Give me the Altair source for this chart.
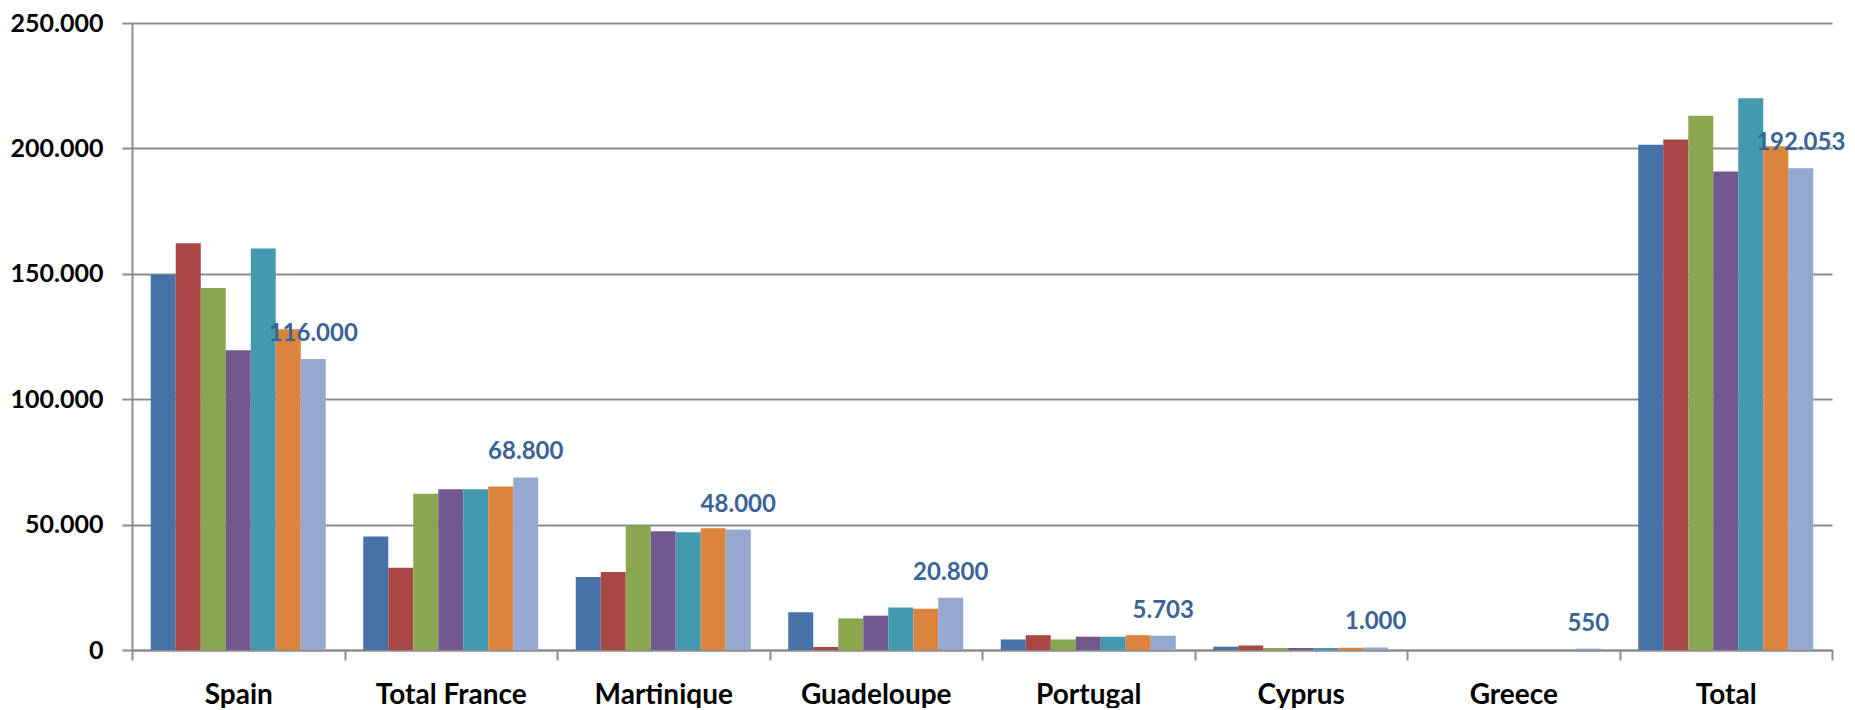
import altair as alt
import pandas as pd

categories = ["Spain", "Total France", "Martinique", "Guadeloupe", "Portugal", "Cyprus", "Greece", "Total"]
series = ["Series 1", "Series 2", "Series 3", "Series 4", "Series 5", "Series 6", "Series 7"]
colors = ["#4672A7", "#A94744", "#8AA64F", "#72588E", "#4399B0", "#DB843D", "#95A9D0"]

s1 = [149600, 45300, 29100, 15100, 4200, 1300, None, 201500]
s2 = [162200, 32800, 31100, 1200, 5900, 1800, None, 203500]
s3 = [144300, 62300, 49500, 12600, 4200, 800, None, 213000]
s4 = [119500, 64100, 47300, 13700, 5300, 800, None, 190800]
s5 = [160100, 64100, 46900, 16900, 5300, 800, None, 220000]
s6 = [127900, 65200, 48500, 16400, 5900, 900, None, 200900]
s7 = [116000, 68800, 48000, 20800, 5703, 1000, 550, 192053]

all_series = [s1, s2, s3, s4, s5, s6, s7]
rows = []
for name, vals in zip(series, all_series):
    for cat, v in zip(categories, vals):
        if v is not None:
            rows.append({"category": cat, "series": name, "value": v})
df = pd.DataFrame(rows)
lab_df = df[df["series"] == series[-1]].copy()

GRAY = "#8C8C8C"
fmt = "replace(format(datum.value, ','), ',', '.')"

x_enc = alt.X(
    "category:N",
    sort=categories,
    scale=alt.Scale(domain=categories, paddingInner=0, paddingOuter=0),
    axis=alt.Axis(
        title=None, labelAngle=0, tickBand="extent", grid=False,
        labelFont="Lato", labelFontWeight="bold", labelFontSize=28, labelColor="#000000",
        labelBaseline="alphabetic", labelPadding=43,
        tickSize=10, tickColor=GRAY, tickWidth=2,
        domainColor=GRAY, domainWidth=2,
    ),
)
xoff_enc = alt.XOffset(
    "series:N", sort=series,
    scale=alt.Scale(domain=series, paddingInner=0, paddingOuter=0.75),
)
y_enc = alt.Y(
    "value:Q",
    scale=alt.Scale(domain=[0, 250000], nice=False),
    axis=alt.Axis(
        title=None, values=[0, 50000, 100000, 150000, 200000, 250000],
        labelExpr=fmt, grid=True, gridColor=GRAY, gridWidth=2,
        labelFont="Lato", labelFontWeight="bold", labelFontSize=25, labelColor="#000000",
        labelPadding=19, tickSize=10, tickColor=GRAY, tickWidth=2,
        domainColor=GRAY, domainWidth=2,
    ),
)

bars = alt.Chart(df).mark_bar().encode(
    x=x_enc,
    xOffset=xoff_enc,
    y=y_enc,
    color=alt.Color("series:N", scale=alt.Scale(domain=series, range=colors), legend=None),
)

labels = alt.Chart(lab_df).transform_calculate(
    label=fmt
).mark_text(
    font="Lato", fontWeight="bold", fontSize=24, color="#3B6396",
    baseline="alphabetic", align="center", dy=-18,
).encode(
    x=alt.X("category:N", sort=categories),
    xOffset=alt.XOffset("series:N", sort=series),
    y=alt.Y("value:Q"),
    text="label:N",
)

chart = alt.layer(bars, labels).properties(
    width=1700, height=627,
    autosize=alt.AutoSizeParams(type="none"),
    padding={"left": 124, "top": 15, "right": 15, "bottom": 58},
    background="white",
).configure_view(stroke=None)

chart.save("out.html", embed_options={"renderer": "svg", "actions": False})
